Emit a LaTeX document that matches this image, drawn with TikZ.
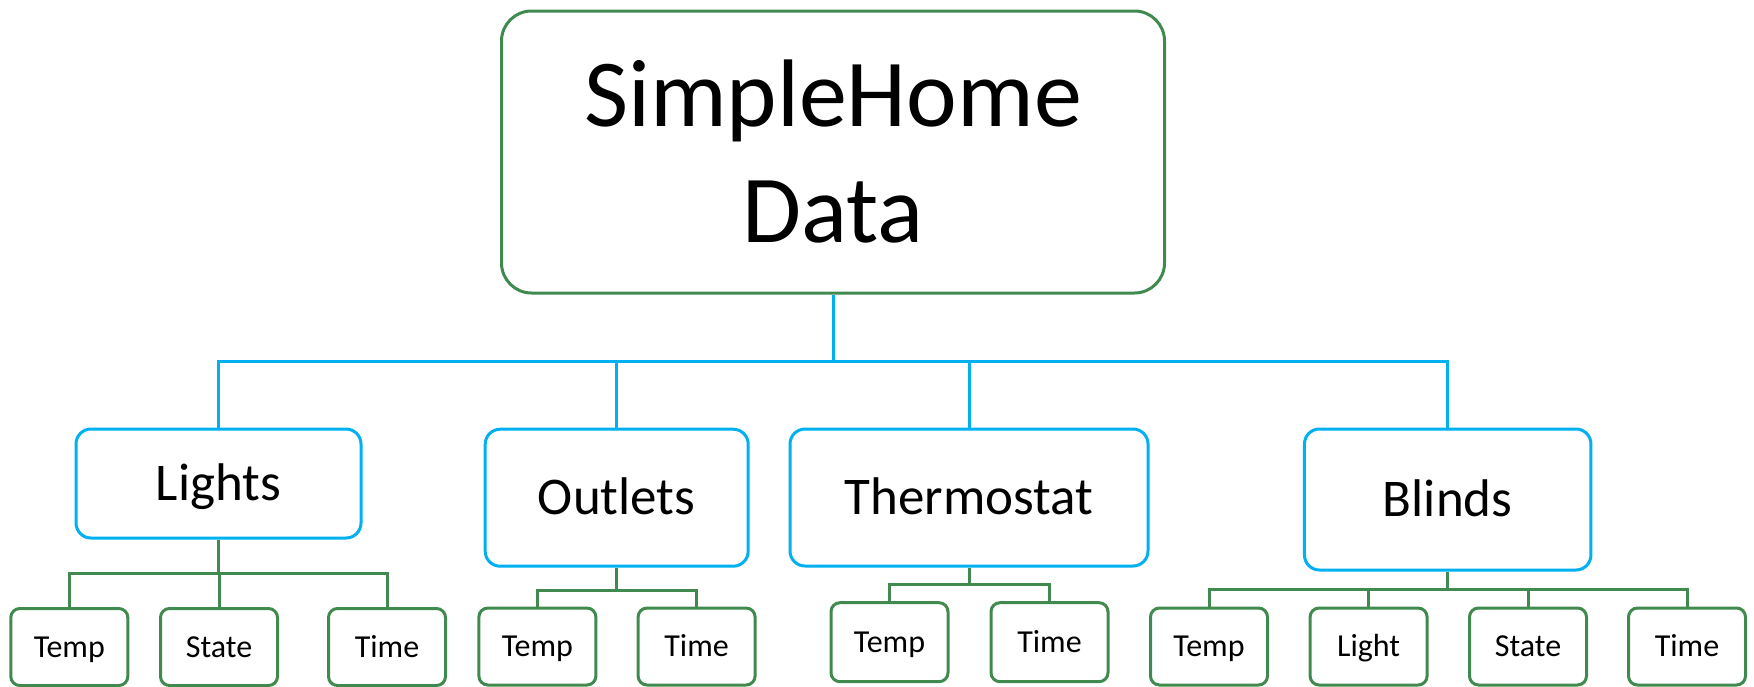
\documentclass[tikz,border=0pt]{standalone}
\usepackage{fontspec}
\setmainfont{Carlito}
\definecolor{boxgreen}{RGB}{64,138,80}
\definecolor{boxblue}{RGB}{0,176,240}
\begin{document}
\begin{tikzpicture}[x=1pt,y=-1pt,
  rootbox/.style={draw=boxgreen,line width=3pt,rounded corners=30pt,minimum width=663pt,minimum height=282pt,inner sep=0pt,align=center,font=\fontsize{96}{116}\selectfont},
  midbox/.style={draw=boxblue,line width=3pt,rounded corners=15pt,inner sep=0pt,text height=34.2pt,text depth=0pt,font=\fontsize{53}{62}\selectfont},
  leafbox/.style={draw=boxgreen,line width=3pt,rounded corners=9pt,minimum width=117pt,minimum height=77pt,inner sep=0pt,text height=20.6pt,text depth=0pt,font=\fontsize{32}{38}\selectfont},
  blueline/.style={draw=boxblue,line width=3pt},
  greenline/.style={draw=boxgreen,line width=3pt}]
\useasboundingbox (0,0) rectangle (1754,686);
% root
\node[rootbox] (root) at (833,152) {SimpleHome\\Data};
% level 2
\node[midbox,minimum width=285pt,minimum height=109pt] (lights) at (218.5,483.5) {Lights};
\node[midbox,minimum width=263pt,minimum height=137pt] (outlets) at (616.7,497.7) {Outlets};
\node[midbox,minimum width=358pt,minimum height=137pt] (thermo) at (969,497.5) {Thermostat};
\node[midbox,minimum width=286.5pt,minimum height=141pt] (blinds) at (1447.7,499.5) {Blinds};
% leaves
\node[leafbox] (ltemp) at (69.3,647) {Temp};
\node[leafbox] (lstate) at (219,647) {State};
\node[leafbox] (ltime) at (387,647) {Time};
\node[leafbox] (otemp) at (537.4,646.5) {Temp};
\node[leafbox] (otime) at (696.6,646.5) {Time};
\node[leafbox,minimum height=79pt] (ttemp) at (889.5,642.2) {Temp};
\node[leafbox,minimum height=79pt] (ttime) at (1049.5,642.2) {Time};
\node[leafbox] (btemp) at (1209,646.5) {Temp};
\node[leafbox] (blight) at (1368.6,646.5) {Light};
\node[leafbox] (bstate) at (1528,646.5) {State};
\node[leafbox] (btime) at (1687,646.5) {Time};
% blue bus
\coordinate (bus) at (833,361.7);
\draw[blueline] (root.south) -- (bus);
\foreach \n in {lights,outlets,thermo,blinds}
  \draw[blueline] (bus) -| (\n.north);
% green buses
\coordinate (lbus) at (218.5,573);
\draw[greenline] (lights.south) -- (lbus);
\foreach \n in {ltemp,lstate,ltime}
  \draw[greenline] (lbus) -| (\n.north);
\coordinate (obus) at (616.7,590);
\draw[greenline] (outlets.south) -- (obus);
\foreach \n in {otemp,otime}
  \draw[greenline] (obus) -| (\n.north);
\coordinate (tbus) at (969,584);
\draw[greenline] (thermo.south) -- (tbus);
\foreach \n in {ttemp,ttime}
  \draw[greenline] (tbus) -| (\n.north);
\coordinate (bbus) at (1447.7,589);
\draw[greenline] (blinds.south) -- (bbus);
\foreach \n in {btemp,blight,bstate,btime}
  \draw[greenline] (bbus) -| (\n.north);
\end{tikzpicture}
\end{document}
